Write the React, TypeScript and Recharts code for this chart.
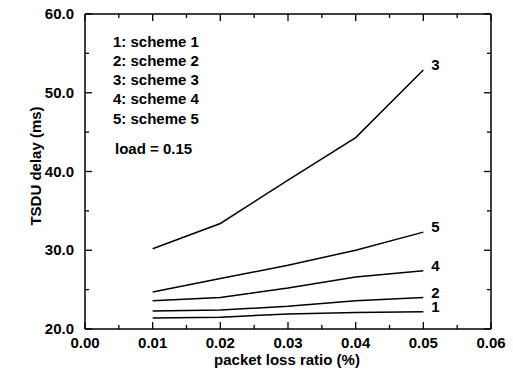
import React from "react";
import { LineChart, Line, XAxis, YAxis, LabelList } from "recharts";

const lossRatio = [0.01, 0.02, 0.03, 0.04, 0.05];
const scheme1 = [21.4, 21.5, 21.9, 22.1, 22.2];
const scheme2 = [22.3, 22.4, 22.9, 23.6, 24.0];
const scheme3 = [30.2, 33.4, 38.9, 44.3, 52.9];
const scheme4 = [23.6, 24.0, 25.2, 26.6, 27.4];
const scheme5 = [24.7, 26.4, 28.1, 30.0, 32.3];

const xTicks = [0, 0.005, 0.01, 0.015, 0.02, 0.025, 0.03, 0.035, 0.04, 0.045, 0.05, 0.055, 0.06];
const yTicks = [20, 25, 30, 35, 40, 45, 50, 55, 60];
const xDomain = [0, 0.06];
const yDomain = [20, 60];

const legendLines = ["1: scheme 1", "2: scheme 2", "3: scheme 3", "4: scheme 4", "5: scheme 5"];
const loadNote = "load = 0.15";
const xTitle = "packet loss ratio (%)";
const yTitle = "TSDU delay (ms)";

const series = [
  { key: "s1", name: "1", values: scheme1 },
  { key: "s2", name: "2", values: scheme2 },
  { key: "s3", name: "3", values: scheme3 },
  { key: "s4", name: "4", values: scheme4 },
  { key: "s5", name: "5", values: scheme5 },
];

const data = lossRatio.map((x, i) => {
  const row: Record<string, number> = { x };
  series.forEach((s) => (row[s.key] = s.values[i]));
  return row;
});

const W = 513;
const H = 377;
const MARGIN = { top: 14, right: 22, bottom: 0, left: 0 };
const Y_AXIS_W = 85;
const X_AXIS_H = 48;
// plot box that follows from the margins and axis sizes above
const PLOT = {
  left: MARGIN.left + Y_AXIS_W,
  right: W - MARGIN.right,
  top: MARGIN.top,
  bottom: H - MARGIN.bottom - X_AXIS_H,
};

const FONT = "'Liberation Sans', Arial, sans-serif";
const textStyle = { fontFamily: FONT, fontWeight: 700, fontSize: 15, fill: "#000" };

const isMajorX = (v: number) => Math.round(v * 1000) % 10 === 0;
const isMajorY = (v: number) => Math.round(v) % 10 === 0;

const sx = (v: number) =>
  PLOT.left + ((v - xDomain[0]) / (xDomain[1] - xDomain[0])) * (PLOT.right - PLOT.left);
const sy = (v: number) =>
  PLOT.bottom - ((v - yDomain[0]) / (yDomain[1] - yDomain[0])) * (PLOT.bottom - PLOT.top);

const renderXTick = (props: any) => {
  const { x, y, payload } = props;
  const major = isMajorX(payload.value);
  const len = major ? 7 : 4;
  return (
    <g>
      <line x1={x} x2={x} y1={y} y2={y - len} stroke="#000" strokeWidth={1.3} />
      {major && (
        <text x={x} y={y + 19} textAnchor="middle" style={textStyle}>
          {payload.value.toFixed(2)}
        </text>
      )}
    </g>
  );
};

const renderYTick = (props: any) => {
  const { x, y, payload } = props;
  const major = isMajorY(payload.value);
  const len = major ? 7 : 4;
  return (
    <g>
      <line x1={x} x2={x + len} y1={y} y2={y} stroke="#000" strokeWidth={1.3} />
      {major && (
        <text x={x - 11} y={y + 5} textAnchor="end" style={textStyle}>
          {payload.value.toFixed(1)}
        </text>
      )}
    </g>
  );
};

const endLabel = (name: string) => (props: any) => {
  const { x, y, index } = props;
  if (index !== lossRatio.length - 1) return null;
  return (
    <text x={x + 8} y={y} style={textStyle}>
      {name}
    </text>
  );
};

export default function App() {
  return (
    <div style={{ position: "fixed", left: 0, top: 0, width: W, height: H, background: "#fff" }}>
      <LineChart width={W} height={H} data={data} margin={MARGIN}>
        <XAxis
          dataKey="x"
          type="number"
          domain={xDomain}
          ticks={xTicks}
          interval={0}
          height={X_AXIS_H}
          tickSize={0}
          tickMargin={0}
          tickLine={false}
          stroke="#000"
          strokeWidth={1.5}
          tick={renderXTick}
        />
        <YAxis
          type="number"
          domain={yDomain}
          ticks={yTicks}
          interval={0}
          width={Y_AXIS_W}
          tickSize={0}
          tickMargin={0}
          tickLine={false}
          stroke="#000"
          strokeWidth={1.5}
          tick={renderYTick}
        />
        {series.map((s) => (
          <Line
            key={s.key}
            dataKey={s.key}
            type="linear"
            stroke="#000"
            strokeWidth={1.5}
            dot={false}
            activeDot={false}
            isAnimationActive={false}
          >
            <LabelList dataKey={s.key} content={endLabel(s.name)} />
          </Line>
        ))}
        <g className="frame">
          <line x1={PLOT.left} x2={PLOT.right} y1={PLOT.top} y2={PLOT.top} stroke="#000" strokeWidth={1.5} />
          <line x1={PLOT.right} x2={PLOT.right} y1={PLOT.top} y2={PLOT.bottom} stroke="#000" strokeWidth={1.5} />
          {xTicks.map((t) => (
            <line
              key={`tx${t}`}
              x1={sx(t)}
              x2={sx(t)}
              y1={PLOT.top}
              y2={PLOT.top + (isMajorX(t) ? 7 : 4)}
              stroke="#000"
              strokeWidth={1.3}
            />
          ))}
          {yTicks.map((t) => (
            <line
              key={`ty${t}`}
              x1={PLOT.right}
              x2={PLOT.right - (isMajorY(t) ? 7 : 4)}
              y1={sy(t)}
              y2={sy(t)}
              stroke="#000"
              strokeWidth={1.3}
            />
          ))}
        </g>
        <g className="annotations">
          {legendLines.map((t, i) => (
            <text key={t} x={113} y={46.5 + i * 19.3} style={textStyle}>
              {t}
            </text>
          ))}
          <text x={115} y={154} style={textStyle}>
            {loadNote}
          </text>
          <text x={287} y={365} textAnchor="middle" style={textStyle}>
            {xTitle}
          </text>
          <text
            x={41}
            y={166}
            textAnchor="middle"
            transform="rotate(-90, 41, 166)"
            style={textStyle}
          >
            {yTitle}
          </text>
        </g>
      </LineChart>
    </div>
  );
}
